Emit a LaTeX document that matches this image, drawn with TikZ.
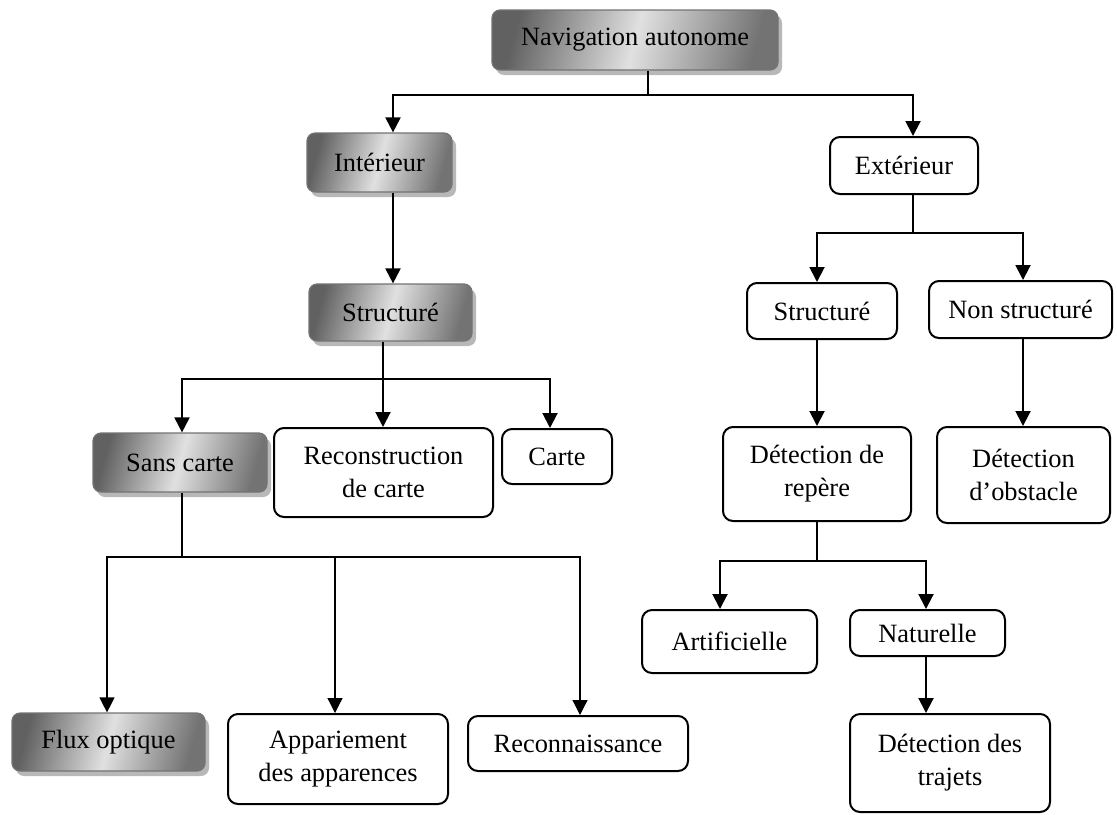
\documentclass[tikz,border=0pt]{standalone}
\usepackage{fontspec}
\setmainfont{Liberation Serif}
\usetikzlibrary{arrows.meta,shadows}
\begin{document}
\begin{tikzpicture}[x=0.5pt,y=-0.5pt,
  font=\fontsize{13.2}{16.5}\selectfont,
  whitebox/.style={draw=black, line width=1pt, rounded corners=5pt, fill=white,
    align=center, inner sep=0pt},
  shadebox/.style={draw=black!55, line width=0.6pt, rounded corners=4pt,
    align=center, inner sep=0pt,
    left color=black!62, right color=black!55, middle color=black!12, shading angle=75,
    drop shadow={shadow xshift=2pt, shadow yshift=-2.5pt, fill=black!28, opacity=1}},
  link/.style={line width=1pt},
  thin link/.style={line width=0.6pt},
  tip/.style={-{Triangle[width=7.5pt,length=7.5pt]}}
]
\useasboundingbox (0,0) rectangle (1117,814);

% ---- boxes ----
\node[shadebox, minimum width=143pt, minimum height=30pt] (nav) at (635,40) {Navigation autonome};
\node[shadebox, minimum width=72.5pt, minimum height=29.5pt] (int) at (379.5,162.5) {Intérieur};
\node[shadebox, minimum width=81.5pt, minimum height=28.5pt] (strL) at (390.5,312.5) {Structuré};
\node[shadebox, minimum width=87pt, minimum height=29.5pt] (sans) at (180,462.5) {Sans carte};
\node[whitebox, minimum width=109.5pt, minimum height=44.5pt] (recon) at (383.5,472.5) {Reconstruction\\de carte};
\node[whitebox, minimum width=55pt, minimum height=27.5pt] (carte) at (557,456.5) {Carte};
\node[shadebox, minimum width=96.5pt, minimum height=29pt] (flux) at (108.5,742) {Flux optique};
\node[whitebox, minimum width=110pt, minimum height=45pt] (appa) at (338,759) {Appariement\\des apparences};
\node[whitebox, minimum width=110pt, minimum height=27.5pt] (reco) at (578,743.5) {Reconnaissance};

\node[whitebox, minimum width=74pt, minimum height=28.5pt] (ext) at (904,165.5) {Extérieur};
\node[whitebox, minimum width=75pt, minimum height=28pt] (strR) at (822,311) {Structuré};
\node[whitebox, minimum width=91.5pt, minimum height=28.5pt] (nonst) at (1020.5,309.5) {Non structuré};
\node[whitebox, minimum width=94pt, minimum height=47pt] (detrep) at (817,474) {Détection de\\repère};
\node[whitebox, minimum width=86.5pt, minimum height=48pt] (detobs) at (1023.5,475) {Détection\\d’obstacle};
\node[whitebox, minimum width=87.5pt, minimum height=31.5pt] (arti) at (729.5,641.5) {Artificielle};
\node[whitebox, minimum width=77.5pt, minimum height=23pt] (natu) at (927.5,633) {Naturelle};
\node[whitebox, minimum width=100pt, minimum height=49pt] (traj) at (950,763) {Détection des\\trajets};

% ---- junction points ----
\coordinate (navJ) at (648,95);
\coordinate (navL) at (393,95);
\coordinate (navR) at (913,95);
\coordinate (intS) at (393,0);
\coordinate (sJ) at (383,379);
\coordinate (sL) at (182,379);
\coordinate (sR) at (550,379);
\coordinate (cJ) at (182,557);
\coordinate (cL) at (107,557);
\coordinate (cM) at (335,557);
\coordinate (cR) at (580,557);
\coordinate (eJ) at (913,233);
\coordinate (eL) at (817,233);
\coordinate (eR) at (1023,233);
\coordinate (dJ) at (817,561);
\coordinate (dL) at (720,561);
\coordinate (dR) at (926,561);

% ---- connectors ----
\draw[link] (navJ |- nav.south) -- (navJ);
\draw[link, tip] (navJ) -- (navL) -- (navL |- int.north);
\draw[link, tip] (navJ) -- (navR) -- (navR |- ext.north);

\draw[link, tip] (intS |- int.south) -- (intS |- strL.north);

\draw[link] (sJ |- strL.south) -- (sJ);
\draw[link, tip] (sJ) -- (sL) -- (sL |- sans.north);
\draw[link, tip] (sJ) -- (sR) -- (sR |- carte.north);
\draw[link, tip] (sJ) -- (sJ |- recon.north);

\draw[thin link] (cJ |- sans.south) -- (cJ);
\draw[thin link, tip] (cJ) -- (cL) -- (cL |- flux.north);
\draw[thin link, tip] (cJ) -- (cR) -- (cR |- reco.north);
\draw[thin link, tip] (cM) -- (cM |- appa.north);

\draw[link] (eJ |- ext.south) -- (eJ);
\draw[link, tip] (eJ) -- (eL) -- (eL |- strR.north);
\draw[link, tip] (eJ) -- (eR) -- (eR |- nonst.north);

\draw[link, tip] (eL |- strR.south) -- (eL |- detrep.north);
\draw[link, tip] (eR |- nonst.south) -- (eR |- detobs.north);

\draw[link] (dJ |- detrep.south) -- (dJ);
\draw[link, tip] (dJ) -- (dL) -- (dL |- arti.north);
\draw[link, tip] (dJ) -- (dR) -- (dR |- natu.north);

\draw[link, tip] (dR |- natu.south) -- (dR |- traj.north);
\end{tikzpicture}
\end{document}
